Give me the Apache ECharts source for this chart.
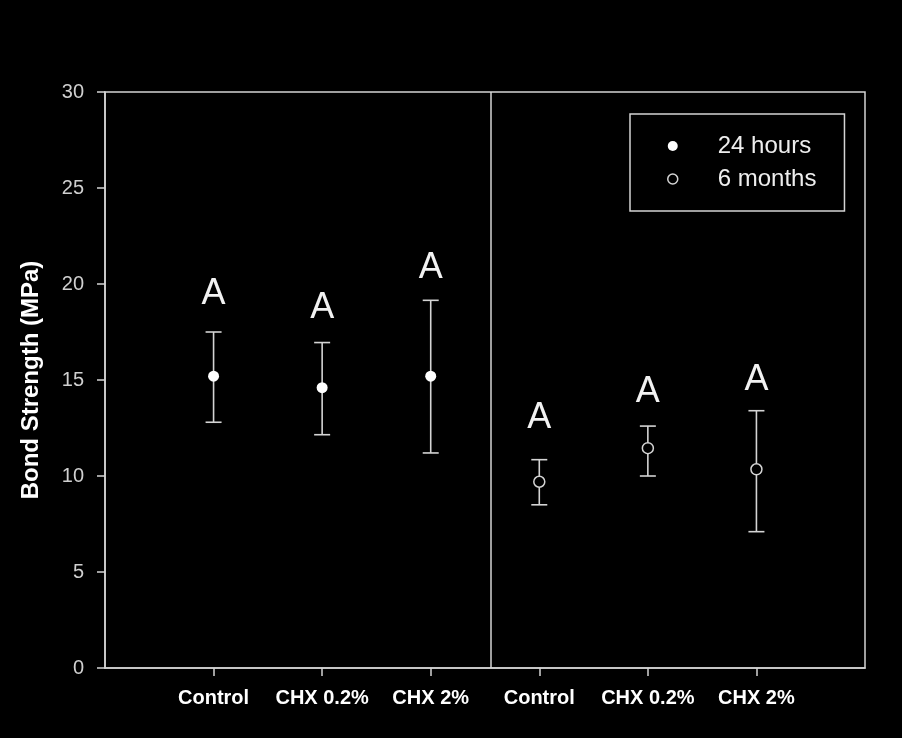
<!DOCTYPE html>
<html>
<head>
<meta charset="utf-8">
<script src="https://cdn.jsdelivr.net/npm/echarts@6/dist/echarts.min.js"></script>
<style>
html,body{margin:0;padding:0;background:#000;}
#chart{width:902px;height:738px;}
</style>
</head>
<body>
<div id="chart"></div>
<script>
// ---- data ----
var categories = ['Control', 'CHX 0.2%', 'CHX 2%', 'Control', 'CHX 0.2%', 'CHX 2%'];
var positions24h = [1, 2, 3];
var means24h = [15.2, 14.6, 15.2];
var upper24h = [17.5, 16.95, 19.15];
var lower24h = [12.8, 12.15, 11.2];
var positions6m = [4, 5, 6];
var means6m = [9.7, 11.45, 10.35];
var upper6m = [10.85, 12.6, 13.4];
var lower6m = [8.5, 10.0, 7.1];
var letters = ['A', 'A', 'A', 'A', 'A', 'A'];
var letterY = [19.45, 18.75, 20.85, 13.0, 14.35, 15.0];
var dividerX = 3.55;

var axisColor = '#d4d4d4';
var sans = '"Liberation Sans", Arial, sans-serif';

function zip3(p, a, b) { return p.map(function (x, i) { return [x, a[i], b[i]]; }); }
function zip2(p, a) { return p.map(function (x, i) { return [x, a[i]]; }); }

var errData = zip3(positions24h, lower24h, upper24h).concat(zip3(positions6m, lower6m, upper6m));
var letterData = positions24h.concat(positions6m).map(function (x, i) { return [x, letterY[i], letters[i]]; });

function renderErr(params, api) {
  var x = api.value(0);
  var lo = api.coord([x, api.value(1)]);
  var hi = api.coord([x, api.value(2)]);
  var hw = 8;
  var st = { stroke: axisColor, lineWidth: 1.6 };
  return {
    type: 'group',
    children: [
      { type: 'line', shape: { x1: lo[0], y1: lo[1], x2: hi[0], y2: hi[1] }, style: st },
      { type: 'line', shape: { x1: lo[0] - hw, y1: lo[1], x2: lo[0] + hw, y2: lo[1] }, style: st },
      { type: 'line', shape: { x1: hi[0] - hw, y1: hi[1], x2: hi[0] + hw, y2: hi[1] }, style: st }
    ]
  };
}

function renderLetter(params, api) {
  var p = api.coord([api.value(0), api.value(1)]);
  return {
    type: 'text',
    x: p[0], y: p[1],
    style: {
      text: letterData[params.dataIndex][2],
      fill: '#f2f2f2',
      font: '36px ' + sans,
      align: 'center',
      verticalAlign: 'middle'
    }
  };
}

var chart = echarts.init(document.getElementById('chart'), null, { renderer: 'canvas' });
chart.setOption({
  backgroundColor: '#000',
  animation: false,
  grid: {
    left: 105, right: 37, top: 92, bottom: 70,
    show: true, borderColor: axisColor, borderWidth: 1.5, backgroundColor: 'transparent'
  },
  legend: {
    orient: 'vertical',
    left: 630, top: 114,
    padding: [20, 28, 20, 37],
    itemGap: 9,
    itemWidth: 80, itemHeight: 10,
    borderColor: axisColor, borderWidth: 1.5,
    backgroundColor: '#000',
    textStyle: { color: '#eeeeee', fontSize: 24, fontFamily: sans },
    data: [
      { name: '24 hours', icon: 'circle', itemStyle: { color: '#ffffff', borderWidth: 0 } },
      { name: '6 months', icon: 'circle', itemStyle: { color: '#000000', borderColor: axisColor, borderWidth: 1.5 } }
    ]
  },
  xAxis: {
    type: 'value', min: 0, max: 7, interval: 1,
    splitLine: { show: false },
    axisLine: { lineStyle: { color: axisColor, width: 1.5 } },
    axisTick: { customValues: positions24h.concat(positions6m), length: 8, lineStyle: { color: axisColor, width: 1.5 } },
    axisLabel: {
      customValues: positions24h.concat(positions6m),
      formatter: function (v) { return categories[Math.round(v) - 1] || ''; },
      color: '#ffffff', fontSize: 20, fontWeight: 'bold', fontFamily: sans, margin: 20
    }
  },
  yAxis: {
    type: 'value', min: 0, max: 30, interval: 5,
    splitLine: { show: false },
    axisLine: { show: true, lineStyle: { color: axisColor, width: 1.5 } },
    axisTick: { show: true, length: 8, lineStyle: { color: axisColor, width: 1.5 } },
    axisLabel: { color: '#cfcfcf', fontSize: 20, fontFamily: sans, margin: 21 },
    name: 'Bond Strength (MPa)',
    nameLocation: 'middle',
    nameGap: 62,
    nameTextStyle: { color: '#ffffff', fontSize: 24, fontWeight: 'bold', fontFamily: sans }
  },
  series: [
    {
      name: 'errorbars', type: 'custom', renderItem: renderErr, data: errData, z: 2,
      markLine: {
        silent: true, symbol: 'none', label: { show: false },
        lineStyle: { color: axisColor, width: 1.5, type: 'solid' },
        data: [{ xAxis: dividerX }]
      }
    },
    {
      name: '24 hours', type: 'scatter', data: zip2(positions24h, means24h),
      symbol: 'circle', symbolSize: 11, z: 5,
      itemStyle: { color: '#ffffff', opacity: 1 }
    },
    {
      name: '6 months', type: 'scatter', data: zip2(positions6m, means6m),
      symbol: 'circle', symbolSize: 11, z: 5,
      itemStyle: { color: '#000000', borderColor: axisColor, borderWidth: 1.5, opacity: 1 }
    },
    {
      name: 'letters', type: 'custom', renderItem: renderLetter, data: letterData, z: 6
    }
  ]
});
</script>
</body>
</html>
